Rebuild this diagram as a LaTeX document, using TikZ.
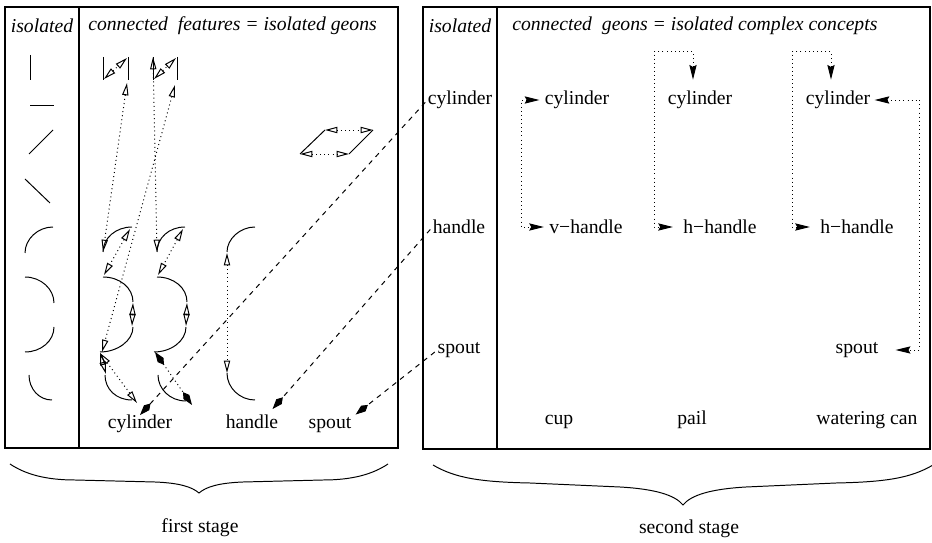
\documentclass[tikz,border=0pt]{standalone}
\usepackage{fontspec}
\setmainfont{Liberation Serif}
\usetikzlibrary{arrows.meta}

\begin{document}
\begin{tikzpicture}[x=0.61pt, y=-0.61pt,
	every node/.style={inner sep=0pt, font=\fontsize{12}{14}\selectfont},
	feat/.style={line width=0.6pt},
	panel/.style={line width=0.7pt},
	conn/.style={line width=0.6pt, dash pattern=on 0.6pt off 1.9pt, {Triangle[open,length=7.5pt,width=3.8pt]}-{Triangle[open,length=7.5pt,width=3.8pt]}},
	conns/.style={line width=0.6pt, dash pattern=on 0.6pt off 1.9pt, {Kite[length=9.5pt,width=4.4pt,inset=3.5pt]}-{Kite[length=9.5pt,width=4.4pt,inset=3.5pt]}},
	link/.style={line width=0.6pt, dash pattern=on 3pt off 3pt, shorten <=2pt, -{Kite[length=9.5pt,width=4.4pt,inset=3.5pt]}},
	brk/.style={line width=0.6pt, dash pattern=on 0.6pt off 1.9pt, {Stealth[length=9pt,width=4.4pt,inset=1.2pt]}-{Stealth[length=9pt,width=4.4pt,inset=1.2pt]}}]
	\useasboundingbox (0,0) rectangle (932,543);

	\draw[panel] (5,7) rectangle (398,448);
	\draw[panel] (79,7) -- (79,448);
	\draw[panel] (423,7) rectangle (930,449);
	\draw[panel] (497,7) -- (497,449);

	\node (lhead) at (42,26) {\itshape isolated};
	\node[anchor=west] (ltitle) at (88,26) {\itshape connected~~features = isolated geons};
	\node (rhead) at (460,26) {\itshape isolated};
	\node[anchor=west] (rtitle) at (512,26) {\itshape connected~~geons = isolated complex concepts};

	\draw[feat] (30,55) -- (30,80);
	\draw[feat] (30,105) -- (54,105);
	\draw[feat] (29,154) -- (53,130);
	\draw[feat] (25,179) -- (50,203);
	\draw[feat] (53,227) .. controls (38,227) and (25,239) .. (25,253);
	\draw[feat] (25,277) .. controls (41,277) and (54,289) .. (54,303);
	\draw[feat] (54,327) .. controls (54,341) and (41,352) .. (25,352);
	\draw[feat] (29,375) .. controls (29,389) and (39,400) .. (52,400);

	\draw[feat] (103,57) -- (103,80) (128,57) -- (128,80);
	\draw[conn] (104,79) -- (127,58);
	\draw[feat] (153,57) -- (153,80) (177,57) -- (177,80);
	\draw[conn] (154,79) -- (176,58);

	\draw[feat] (132,227) .. controls (116,227) and (103,238) .. (103,252);
	\draw[feat] (103,277) .. controls (120,277) and (133,288) .. (133,302);
	\draw[feat] (133,327) .. controls (133,341) and (117,352) .. (100,352);
	\draw[feat] (105,375) .. controls (105,389) and (116,400) .. (132,400);
	\draw[feat] (185,227) .. controls (169,227) and (157,238) .. (157,252);
	\draw[feat] (157,277) .. controls (174,277) and (187,288) .. (187,302);
	\draw[feat] (186,327) .. controls (186,341) and (171,352) .. (154,352);
	\draw[feat] (158,375) .. controls (158,389) and (170,401) .. (186,401);

	\draw[conn] (127,83) -- (103,252);
	\draw[conn] (175,85) -- (102,352);
	\draw[conn] (153,57) -- (157,252);
	\draw[conn] (130,229) -- (104,275);
	\draw[conn] (133,303) -- (132,326);
	\draw[conn] (100,353) -- (106,374);
	\draw[conn] (100,353) -- (137,403);
	\draw[conn] (183,229) -- (158,275);
	\draw[conn] (187,303) -- (186,326);
	\draw[conns] (155,352) -- (192,405);

	\draw[feat] (255,227) .. controls (240,227) and (227,239) .. (227,252);
	\draw[feat] (227,373) .. controls (227,388) and (240,400) .. (255,400);
	\draw[conn] (227,253) -- (227,373);

	\draw[feat] (300,154) -- (325,130) (349,154) -- (373,130);
	\draw[conn] (325,130) -- (373,130);
	\draw[conn] (300,154) -- (349,154);

	\node[anchor=base] (cyl1) at (140,429) {cylinder};
	\node[anchor=base] (lhandle) at (252,429) {handle};
	\node[anchor=base] (lspout) at (330,429) {spout};

	\node (isocyl) at (460,100) {cylinder};
	\node (isohandle) at (459,227) {handle};
	\node (isospout) at (459,350) {spout};

	\node (cupcyl) at (577,100) {cylinder};
	\node (cupvh) at (586,227) {v−handle};
	\node (pailcyl) at (700,100) {cylinder};
	\node (pailhh) at (720,227) {h−handle};
	\node (wccyl) at (838,100) {cylinder};
	\node (wchh) at (857,227) {h−handle};
	\node (wcspout) at (857,350) {spout};
	\node[anchor=base] (cup) at (559,425) {cup};
	\node[anchor=base] (pail) at (692,425) {pail};
	\node[anchor=base] (wcan) at (867,425) {watering can};

	\draw[link] (isocyl.west) -- (cyl1.north);
	\draw[link] (isohandle.west) -- ([shift={(-6,-6)}]lhandle.north east);
	\draw[link] (isospout.west) -- ([shift={(4,-3)}]lspout.north east);

	\draw[brk] ([shift={(-5,0)}]cupcyl.west) -- ++(-18,0) |- ([shift={(-5,0)}]cupvh.west);
	\draw[brk] ([shift={(-7,-11)}]pailcyl.north) -- ++(0,-28) -- ++(-39,0) |- ([shift={(-10,0)}]pailhh.west);
	\draw[brk] ([shift={(-7,-11)}]wccyl.north) -- ++(0,-28) -- ++(-39,0) |- ([shift={(-10,0)}]wchh.west);
	\draw[brk] ([shift={(4,0)}]wccyl.east) -- ++(45,0) |- ([shift={(17,0)}]wcspout.east);

	\draw[feat] (10,464) .. controls (25,474) and (45,480) .. (75,480) -- (155,482) .. controls (180,483) and (192,487) .. (199,493) .. controls (206,487) and (218,483) .. (243,482) -- (323,480) .. controls (353,480) and (373,474) .. (388,464);
	\draw[feat] (433,465) .. controls (455,478) and (480,482) .. (530,483) -- (620,487) .. controls (655,489) and (675,495) .. (683,505) .. controls (691,495) and (711,489) .. (746,487) -- (836,483) .. controls (886,482) and (911,478) .. (933,465);

	\node[anchor=base] (stage1) at (200,533) {first stage};
	\node[anchor=base] (stage2) at (689,534) {second stage};
\end{tikzpicture}
\end{document}
